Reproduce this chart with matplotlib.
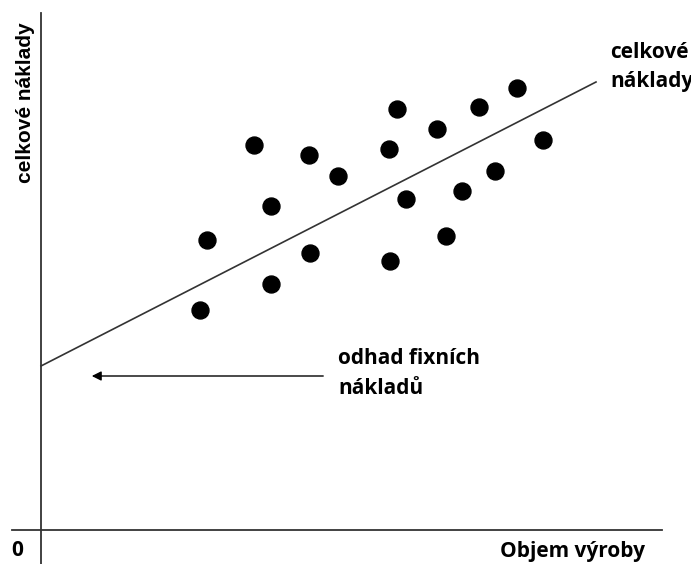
import matplotlib
matplotlib.use("Agg")
import matplotlib.pyplot as plt

# scatter points (x = volume, y = cost), in pixel-like units from origin
vol = [159, 166, 213, 230, 230, 268, 269, 297, 348, 356, 349, 365, 396, 405, 421, 438, 454, 476, 502]
cost = [220, 290, 385, 324, 246, 375, 277, 354, 381, 421, 269, 331, 401, 294, 339, 423, 359, 442, 390]

# fitted line end points
line_x = [0, 555]
line_y = [164, 448]

fig = plt.figure(figsize=(6.91, 5.64), dpi=100)
ax = fig.add_axes([0, 0, 1, 1])
ax.set_xlim(-41, 650)
ax.set_ylim(-34, 530)
ax.axis("off")

# axes lines
ax.plot([-29, 621], [0, 0], color="#333333", lw=1.3)
ax.plot([0, 0], [-34, 517], color="#333333", lw=1.3)

ax.plot(line_x, line_y, color="#333333", lw=1.2)
ax.plot(vol, cost, "o", color="black", markersize=12.2)

# arrow to the fixed cost estimate
ax.annotate("", xy=(48, 154), xytext=(285, 154),
            arrowprops=dict(arrowstyle="-|>", color="black", lw=1.0, mutation_scale=14))

txt = dict(family="Open Sans", fontweight="bold", fontsize=15, color="black")
ax.text(297, 172, "odhad fixních", va="center", ha="left", **txt)
ax.text(297, 141, "nákladů", va="center", ha="left", **txt)
ax.text(569, 477, "celkové", va="center", ha="left", **txt)
ax.text(569, 449, "náklady", va="center", ha="left", **txt)
ax.text(604, -21, "Objem výroby", va="center", ha="right", **txt)
ax.text(-30, -21, "0", va="center", ha="left", **txt)

ax.text(-15, 427, "celkové náklady", rotation=90, va="center", ha="center",
        family="Liberation Sans", fontweight="bold", fontsize=15)

fig.savefig("out.png", dpi=100)
